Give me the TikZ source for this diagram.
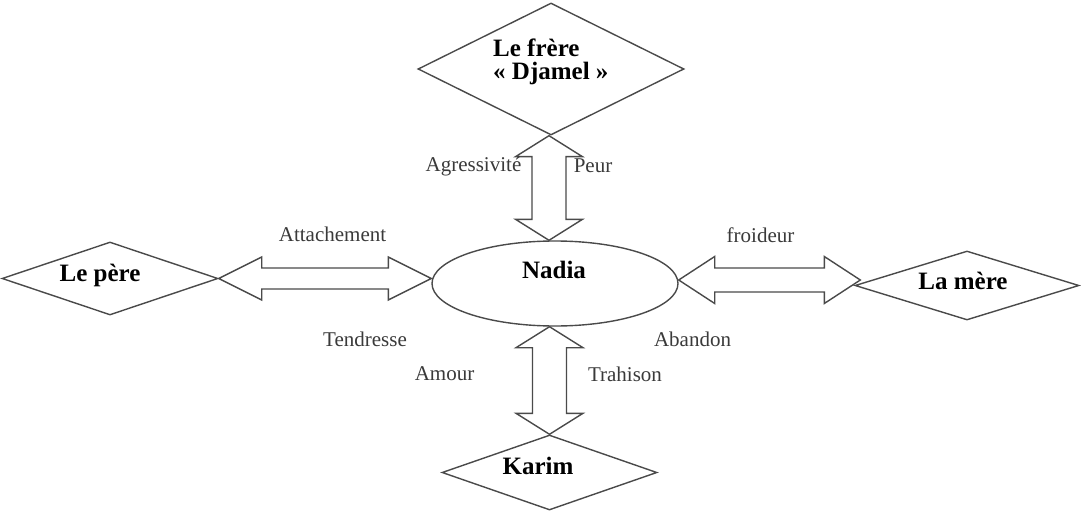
\documentclass[tikz,border=0pt]{standalone}
\usepackage{fontspec}
\setmainfont{Liberation Serif}
\usetikzlibrary{shapes.geometric,calc}
\newcommand\myHarrow[5]{%
  \draw[blockarrow] (#1) -- ($(#1)+(#3,-#4)$) -- ($(#1)+(#3,-#5)$) -- ($(#2)+(-#3,-#5)$) -- ($(#2)+(-#3,-#4)$) -- (#2)
    -- ($(#2)+(-#3,#4)$) -- ($(#2)+(-#3,#5)$) -- ($(#1)+(#3,#5)$) -- ($(#1)+(#3,#4)$) -- cycle;}
\newcommand\myVarrow[5]{%
  \draw[blockarrow] (#1) -- ($(#1)+(#4,#3)$) -- ($(#1)+(#5,#3)$) -- ($(#2)+(#5,-#3)$) -- ($(#2)+(#4,-#3)$) -- (#2)
    -- ($(#2)+(-#4,-#3)$) -- ($(#2)+(-#5,-#3)$) -- ($(#1)+(-#5,#3)$) -- ($(#1)+(-#4,#3)$) -- cycle;}
\definecolor{linec}{HTML}{4A4A4A}
\definecolor{labc}{HTML}{3A3A3A}
\tikzset{
  diam/.style={draw=linec, line width=1.4pt, diamond, aspect=2, inner sep=0pt, fill=white},
  ell/.style={draw=linec, line width=1.4pt, ellipse, inner sep=0pt, fill=white},
  blockarrow/.style={draw=linec, line width=1.4pt, fill=white, line join=miter},
  nametext/.style={font=\fontsize{25}{23}\selectfont\bfseries, text=black, inner sep=0pt},
  lab/.style={font=\fontsize{21}{25}\selectfont, text=labc, inner sep=0pt},
}
\begin{document}
\begin{tikzpicture}[x=1pt,y=-1pt]
\useasboundingbox[fill=white] (0,0) rectangle (1081,513);
% shapes
\node[diam, minimum width=266pt, minimum height=132pt] (frere) at (551,69) {};
\node[diam, minimum width=216pt, minimum height=73pt] (pere) at (110,278.5) {};
\node[diam, minimum width=224pt, minimum height=69pt] (mere) at (967,285.5) {};
\node[diam, minimum width=215pt, minimum height=75pt] (karim) at (549.5,472.5) {};
\node[ell, minimum width=246pt, minimum height=85pt] (nadia) at (555,283.5) {};
% connector ends
\coordinate (tA) at ($(frere.south)+(-2,0)$);
\coordinate (tB) at (tA |- nadia.north);
\coordinate (lB) at (pere.east -| nadia.west);
\coordinate (rA) at ($(nadia.east)+(0,-3.5)$);
\coordinate (rB) at ($(mere.west)+(6,-5.5)$);
\coordinate (bA) at (karim.north |- nadia.south);
% block double arrows
\myVarrow{tA}{tB}{21}{33.5}{17}
\myHarrow{pere.east}{lB}{43}{21.5}{10.5}
\myHarrow{rA}{rB}{36}{23.5}{12}
\myVarrow{bA}{karim.north}{21}{33.5}{17}
% names
\node[nametext, align=left, anchor=west] (frereT) at (493,62) {Le frère\\« Djamel »};
\node[nametext] (pereT) at (100,275) {Le père};
\node[nametext] (mereT) at (963,281) {La mère};
\node[nametext] (karimT) at (538,466) {Karim};
\node[nametext] (nadiaT) at (554,270) {Nadia};
% labels
\node[lab] (l1) at (473.5,166) {Agressivité};
\node[lab] (l2) at (593,166) {Peur};
\node[lab] (l3) at (332.5,234) {Attachement};
\node[lab] (l4) at (365,339) {Tendresse};
\node[lab] (l5) at (760.5,235) {froideur};
\node[lab] (l6) at (692.5,339) {Abandon};
\node[lab] (l7) at (444.5,374) {Amour};
\node[lab] (l8) at (625,374) {Trahison};
\end{tikzpicture}
\end{document}
